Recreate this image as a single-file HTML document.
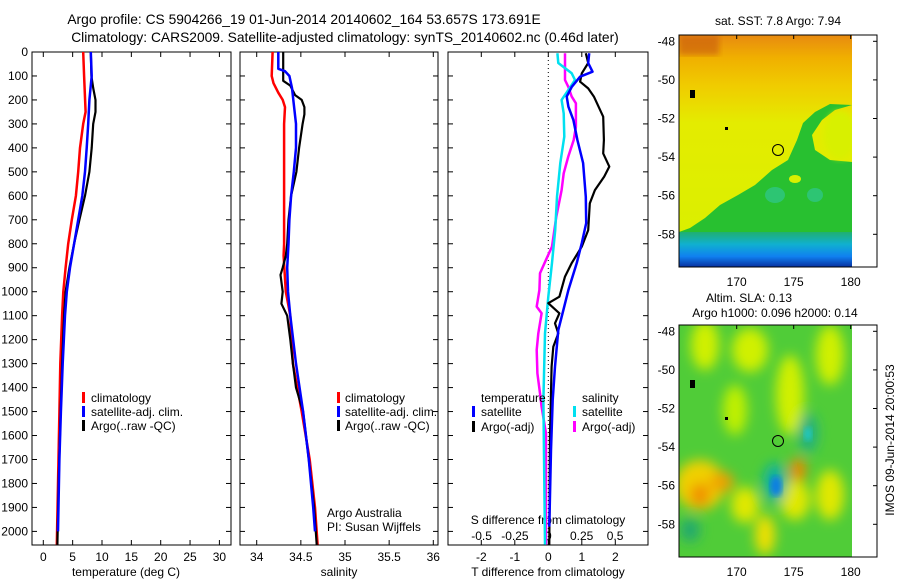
<!DOCTYPE html>
<html><head><meta charset="utf-8">
<style>
body{margin:0;background:#fff;}
svg{display:block;font-family:"Liberation Sans",sans-serif;font-size:12px;}
</style></head>
<body>
<svg id="fig" width="900" height="580" viewBox="0 0 900 580" xmlns="http://www.w3.org/2000/svg">
<defs>
<linearGradient id="sstTop" x1="0" y1="0" x2="0" y2="1">
<stop offset="0" stop-color="#e88a10"/><stop offset="0.1" stop-color="#f0b000"/><stop offset="0.22" stop-color="#f0cc00"/><stop offset="0.38" stop-color="#e4ec00"/><stop offset="1" stop-color="#d8f000"/>
</linearGradient>
<linearGradient id="sstBot" x1="0" y1="0" x2="0" y2="1">
<stop offset="0" stop-color="#20b070"/><stop offset="0.35" stop-color="#10b0d0"/><stop offset="0.7" stop-color="#1080f0"/><stop offset="1" stop-color="#0830a0"/>
</linearGradient>
<filter id="blur6"><feGaussianBlur stdDeviation="6"/></filter>
<filter id="blur3"><feGaussianBlur stdDeviation="3"/></filter>
<clipPath id="clipM1"><rect x="679" y="35" width="173" height="232"/></clipPath>
<clipPath id="clipM2"><rect x="679" y="325" width="173" height="232"/></clipPath>
</defs>

<text x="304" y="24" text-anchor="middle" font-size="13.8">Argo profile: CS 5904266_19 01-Jun-2014 20140602_164 53.657S 173.691E</text>
<text x="345" y="42" text-anchor="middle" font-size="13.8">Climatology: CARS2009. Satellite-adjusted climatology: synTS_20140602.nc (0.46d later)</text>

<g id="p1"></g>
<g id="p2"></g>
<g id="p3"></g>

<!-- Map 1 SST -->
<g>
<text x="778" y="25" text-anchor="middle">sat. SST: 7.8 Argo: 7.94</text>
<g clip-path="url(#clipM1)">
<rect x="679" y="35" width="173" height="232" fill="url(#sstTop)"/>
<rect x="679" y="35" width="40" height="20" fill="#c85a10" opacity="0.6" filter="url(#blur3)"/>
<polygon fill="#28c030" points="852,105 835,110 822,120 812,135 815,150 830,160 852,162 852,267 679,267 679,232 690,228 705,218 720,205 738,195 755,185 772,170 788,160 797,140 803,123 815,112 830,104"/>
<ellipse cx="840" cy="135" rx="16" ry="24" fill="#d8f000" filter="url(#blur3)"/>
<rect x="679" y="232" width="173" height="35" fill="url(#sstBot)"/>
<ellipse cx="775" cy="195" rx="10" ry="8" fill="#30c8a0" opacity="0.6"/>
<ellipse cx="815" cy="195" rx="8" ry="7" fill="#30c8a0" opacity="0.6"/>
<ellipse cx="795" cy="179" rx="6" ry="4" fill="#d8f000"/>
<rect x="690" y="90" width="5" height="8" fill="#000"/>
<rect x="725" y="127" width="3" height="3" fill="#000"/>
</g>
<rect x="852" y="35" width="25" height="232" fill="#fff"/>
<rect x="679" y="35" width="198" height="232" fill="none" stroke="#000"/>
<circle cx="778" cy="150" r="5.5" fill="none" stroke="#000"/>
<g id="m1ticks"></g>
</g>

<!-- Map 2 SLA -->
<g>
<text x="749" y="302" text-anchor="middle">Altim. SLA: 0.13</text>
<text x="775" y="317" text-anchor="middle">Argo h1000: 0.096 h2000: 0.14</text>
<g clip-path="url(#clipM2)">
<rect x="679" y="325" width="173" height="232" fill="#50cc38"/>
<g filter="url(#blur6)">
<ellipse cx="705" cy="345" rx="14" ry="25" fill="#d0f000"/>
<ellipse cx="750" cy="350" rx="18" ry="22" fill="#d0f000"/>
<ellipse cx="830" cy="355" rx="14" ry="30" fill="#d0f000"/>
<ellipse cx="790" cy="395" rx="14" ry="40" fill="#d0f000"/>
<ellipse cx="735" cy="410" rx="12" ry="25" fill="#c0f000"/>
<ellipse cx="700" cy="485" rx="25" ry="25" fill="#f0d000"/>
<ellipse cx="745" cy="505" rx="14" ry="18" fill="#e0e800"/>
<ellipse cx="795" cy="500" rx="15" ry="20" fill="#e0e800"/>
<ellipse cx="830" cy="495" rx="14" ry="25" fill="#e0e800"/>
<ellipse cx="765" cy="535" rx="10" ry="20" fill="#f0e000"/>
<ellipse cx="700" cy="495" rx="10" ry="12" fill="#f09000"/>
<ellipse cx="722" cy="482" rx="12" ry="10" fill="#f0a000"/>
<ellipse cx="798" cy="470" rx="8" ry="12" fill="#f08800"/>
<ellipse cx="775" cy="483" rx="12" ry="20" fill="#10b0a0"/>
<ellipse cx="808" cy="433" rx="10" ry="20" fill="#20b080"/>
<ellipse cx="690" cy="530" rx="10" ry="12" fill="#20a870"/>
</g>
<ellipse cx="776" cy="486" rx="6" ry="10" fill="#1080e0" filter="url(#blur3)"/>
<ellipse cx="808" cy="434" rx="4" ry="7" fill="#20c8c0" filter="url(#blur3)"/>
<rect x="690" y="380" width="5" height="8" fill="#000"/>
<rect x="725" y="417" width="3" height="3" fill="#000"/>
</g>
<rect x="852" y="325" width="25" height="232" fill="#fff"/>
<rect x="679" y="325" width="198" height="232" fill="none" stroke="#000"/>
<circle cx="778" cy="441" r="5.5" fill="none" stroke="#000"/>
<g id="m2ticks"></g>
</g>
<text transform="translate(894,440) rotate(-90)" text-anchor="middle">IMOS 09-Jun-2014 20:00:53</text>
</svg>

<script>
// ---- data ----
const depthTicks = [0,100,200,300,400,500,600,700,800,900,1000,1100,1200,1300,1400,1500,1600,1700,1800,1900,2000];
const tempTicks = [0,5,10,15,20,25,30];
const salTicks = [34,34.5,35,35.5,36];
const salTickLabels = ["34","34.5","35","35.5","36"];
const tdiffTicks = [-2,-1,0,1,2];
const sdiffTicks = [-0.5,-0.25,0,0.25,0.5];
const sdiffTickLabels = ["-0.5","-0.25","0","0.25","0.5"];

const tClimDepth = [0,100,250,300,400,500,600,700,800,900,1000,1100,1300,1500,1800,2055];
const tClimVal   = [6.8,6.95,7.2,6.8,6.25,5.95,5.55,4.85,4.25,3.8,3.4,3.2,2.9,2.75,2.5,2.3];
const tSatDepth  = [0,100,200,300,400,500,600,700,800,900,1000,1100,1300,1500,1700,2000];
const tSatVal    = [8.1,8.25,7.85,7.65,7.4,7.1,6.65,5.95,5.25,4.55,4.0,3.7,3.3,3.0,2.75,2.5];
const tArgoDepth = [0,100,150,200,250,300,400,500,600,700,800,900,1000,1100,1300,1500,1800,2055];
const tArgoVal   = [8.1,8.2,8.5,8.9,8.9,8.5,8.25,7.85,7.1,6.15,5.25,4.45,3.8,3.55,3.2,2.95,2.6,2.4];

const sClimDepth = [0,100,130,170,200,230,300,800,850,1000,1100,1300,1500,1700,1900,2055];
const sClimVal   = [34.18,34.17,34.19,34.245,34.295,34.32,34.31,34.31,34.305,34.33,34.38,34.41,34.51,34.60,34.66,34.69];
const sSatDepth  = [0,70,80,100,150,200,300,400,500,600,700,800,900,1000,1100,1300,1500,1700,1900,2000];
const sSatVal    = [34.245,34.245,34.32,34.37,34.40,34.415,34.445,34.445,34.42,34.39,34.37,34.36,34.345,34.355,34.38,34.445,34.525,34.59,34.64,34.66];
const sArgoDepth = [0,120,140,180,200,230,260,300,400,500,600,700,800,850,900,930,1000,1050,1100,1200,1300,1400,1500,1700,1900,2055];
const sArgoVal   = [34.30,34.30,34.38,34.435,34.51,34.54,34.54,34.52,34.48,34.45,34.39,34.36,34.345,34.33,34.295,34.27,34.295,34.28,34.345,34.38,34.41,34.445,34.525,34.59,34.65,34.68];

const dtSatDepth = [5,46,82,103,145,186,228,284,367,463,604,714,797,880,993,1076,1160,1313,1452,1660,1980];
const dtSatVal   = [1.22,1.19,1.32,0.95,0.70,0.55,0.60,0.75,0.87,1.04,1.12,1.13,1.0,0.85,0.60,0.45,0.30,0.20,0.13,0.08,0.03];
const dtArgoDepth = [5,46,89,124,152,186,270,367,423,478,520,576,631,743,812,880,937,1021,1048,1090,1132,1174,1230,1313,1591,2055];
const dtArgoVal   = [1.12,1.19,1.0,0.95,1.19,1.36,1.64,1.66,1.64,1.82,1.67,1.39,1.24,1.19,1.0,0.70,0.50,0.33,0.0,0.33,0.2,0.30,0.15,0.1,0.05,0.03];
const dsSatDepth = [5,46,89,117,159,200,256,353,463,604,743,880,1021,1174,1452,2055];
const dsSatVal   = [0.068,0.075,0.175,0.20,0.15,0.10,0.115,0.12,0.09,0.065,0.052,0.028,0.0,-0.025,-0.037,-0.025];
const dsArgoDepth = [5,117,145,186,214,312,367,436,506,576,687,812,867,923,993,1062,1090,1174,1243,1341,1424,1480,1591,1730,2055];
const dsArgoVal   = [0.125,0.125,0.15,0.175,0.207,0.207,0.19,0.15,0.115,0.10,0.06,0.028,-0.017,-0.062,-0.067,-0.087,-0.05,-0.075,-0.087,-0.082,-0.062,-0.05,-0.017,-0.017,-0.017];

const lonTicks = [170,175,180];
const latTicks = [-48,-50,-52,-54,-56,-58];

// ---- scales ----
const TOP=52, BOT=545;
const yD = d => TOP + d*(479.4/2000);
const xT = t => 43.3 + t*5.87;
const xS = s => 256.7 + (s-34)*88.3;
const xDT = v => 548.3 + v*33.5;
const xDS = v => 548.3 + v*133.5;
const P1=[32,231], P2=[240,438], P3=[448,648];
const NS='http://www.w3.org/2000/svg';

function mk(parent, tag, attrs){ const e=document.createElementNS(NS,tag); for(const k in attrs) e.setAttribute(k,attrs[k]); parent.appendChild(e); return e; }

function frame(g, P, name){
  const r=mk(g,'rect',{x:P[0],y:TOP,width:P[1]-P[0],height:BOT-TOP,fill:'#fff',stroke:'#000','stroke-width':1});
  
  
  depthTicks.forEach(d=>{
    mk(g,'line',{x1:P[0],x2:P[0]+5,y1:yD(d),y2:yD(d),stroke:'#000'});
    mk(g,'line',{x1:P[1],x2:P[1]-5,y1:yD(d),y2:yD(d),stroke:'#000'});
  });
}
function xticks(g, vals, fx, labels, ly){
  vals.forEach((v,i)=>{
    const x=fx(v);
    mk(g,'line',{x1:x,x2:x,y1:TOP,y2:TOP+5,stroke:'#000'});
    mk(g,'line',{x1:x,x2:x,y1:BOT,y2:BOT-5,stroke:'#000'});
    if(labels){ const t=mk(g,'text',{x:x,y:ly,'text-anchor':'middle'}); t.textContent=labels[i];
      
       }
  });
}
function profile(g, depths, vals, fx, color, name, w){
  const pts=depths.map((d,i)=>fx(vals[i]).toFixed(1)+','+yD(d).toFixed(1)).join(' ');
  const p=mk(g,'polyline',{points:pts,fill:'none',stroke:color,'stroke-width':w||2.5,'stroke-linejoin':'round'});
  
  
}
function txt(g,x,y,s,anchor,name){ const t=mk(g,'text',{x:x,y:y,'text-anchor':anchor||'start'}); t.textContent=s;
  
   return t; }
function legendBar(g,x,y,color){ mk(g,'rect',{x:x,y:y-10,width:3,height:11,fill:color}); }

// ---- panel 1 ----
const g1=document.getElementById('p1');
frame(g1,P1,'temperature-panel');
depthTicks.forEach(d=>{ const t=txt(g1,28,yD(d)+4,String(d),'end','y-tick-label'); });
xticks(g1,tempTicks,xT,tempTicks.map(String),561);
txt(g1,126,576,'temperature (deg C)','middle','temperature-axis-title');
profile(g1,tClimDepth,tClimVal,xT,'#ff0000','temp-climatology-line');
profile(g1,tArgoDepth,tArgoVal,xT,'#000','temp-argo-line',2.2);
profile(g1,tSatDepth,tSatVal,xT,'#0000ff','temp-satellite-line');
legendBar(g1,82,402,'#ff0000'); txt(g1,91,402,'climatology','start','legend-climatology');
legendBar(g1,82,416,'#0000ff'); txt(g1,91,416,'satellite-adj. clim.','start','legend-satellite');
legendBar(g1,82,430,'#000'); txt(g1,91,430,'Argo(..raw -QC)','start','legend-argo');

// ---- panel 2 ----
const g2=document.getElementById('p2');
frame(g2,P2,'salinity-panel');
xticks(g2,salTicks,xS,salTickLabels,561);
txt(g2,339,576,'salinity','middle','salinity-axis-title');
profile(g2,sClimDepth,sClimVal,xS,'#ff0000','sal-climatology-line');
profile(g2,sArgoDepth,sArgoVal,xS,'#000','sal-argo-line',2.2);
profile(g2,sSatDepth,sSatVal,xS,'#0000ff','sal-satellite-line');
legendBar(g2,337,402,'#ff0000'); txt(g2,345,402,'climatology','start','legend-climatology');
legendBar(g2,337,416,'#0000ff'); txt(g2,345,416,'satellite-adj. clim.','start','legend-satellite');
legendBar(g2,337,430,'#000'); txt(g2,345,430,'Argo(..raw -QC)','start','legend-argo');
txt(g2,327,517,'Argo Australia','start','credit-argo-australia');
txt(g2,327,531,'PI: Susan Wijffels','start','credit-pi');

// ---- panel 3 ----
const g3=document.getElementById('p3');
frame(g3,P3,'difference-panel');
xticks(g3,tdiffTicks,xDT,tdiffTicks.map(String),561);
mk(g3,'line',{x1:xDT(0),x2:xDT(0),y1:TOP,y2:BOT,stroke:'#000','stroke-dasharray':'1,3'});
sdiffTicks.forEach((v,i)=>{ txt(g3,xDS(v),540,sdiffTickLabels[i],'middle','s-diff-tick-label'); });
txt(g3,548,524,'S difference from climatology','middle','s-diff-axis-title');
txt(g3,548,576,'T difference from climatology','middle','t-diff-axis-title');
profile(g3,dsArgoDepth,dsArgoVal,xDS,'#ff00ff','sdiff-argo-line');
profile(g3,dsSatDepth,dsSatVal,xDS,'#00e0f0','sdiff-satellite-line');
profile(g3,dtArgoDepth,dtArgoVal,xDT,'#000','tdiff-argo-line',2.2);
profile(g3,dtSatDepth,dtSatVal,xDT,'#0000ff','tdiff-satellite-line');
txt(g3,481,402,'temperature','start','legend-temperature-header');
legendBar(g3,472,416,'#0000ff'); txt(g3,481,416,'satellite','start','legend-t-satellite');
legendBar(g3,472,431,'#000'); txt(g3,481,431,'Argo(-adj)','start','legend-t-argo');
txt(g3,582,402,'salinity','start','legend-salinity-header');
legendBar(g3,573,416,'#00e0f0'); txt(g3,582,416,'satellite','start','legend-s-satellite');
legendBar(g3,573,431,'#ff00ff'); txt(g3,582,431,'Argo(-adj)','start','legend-s-argo');

// ---- map ticks ----
function mapTicks(id, top){
  const g=document.getElementById(id);
  const xL = lon => 736.7 + (lon-170)*11.4;
  const yL = lat => top+6.3 + (-48-lat)*19.3;
  lonTicks.forEach(l=>{
    mk(g,'line',{x1:xL(l),x2:xL(l),y1:top,y2:top+4,stroke:'#000'});
    txt(g,xL(l),top+232+19,String(l),'middle','map-lon-label');
  });
  latTicks.forEach(l=>{
    mk(g,'line',{x1:877,x2:873,y1:yL(l),y2:yL(l),stroke:'#000'});
    txt(g,675,yL(l)+4,String(l),'end','map-lat-label');
  });
}
mapTicks('m1ticks',35);
mapTicks('m2ticks',325);
</script>
</body></html>
